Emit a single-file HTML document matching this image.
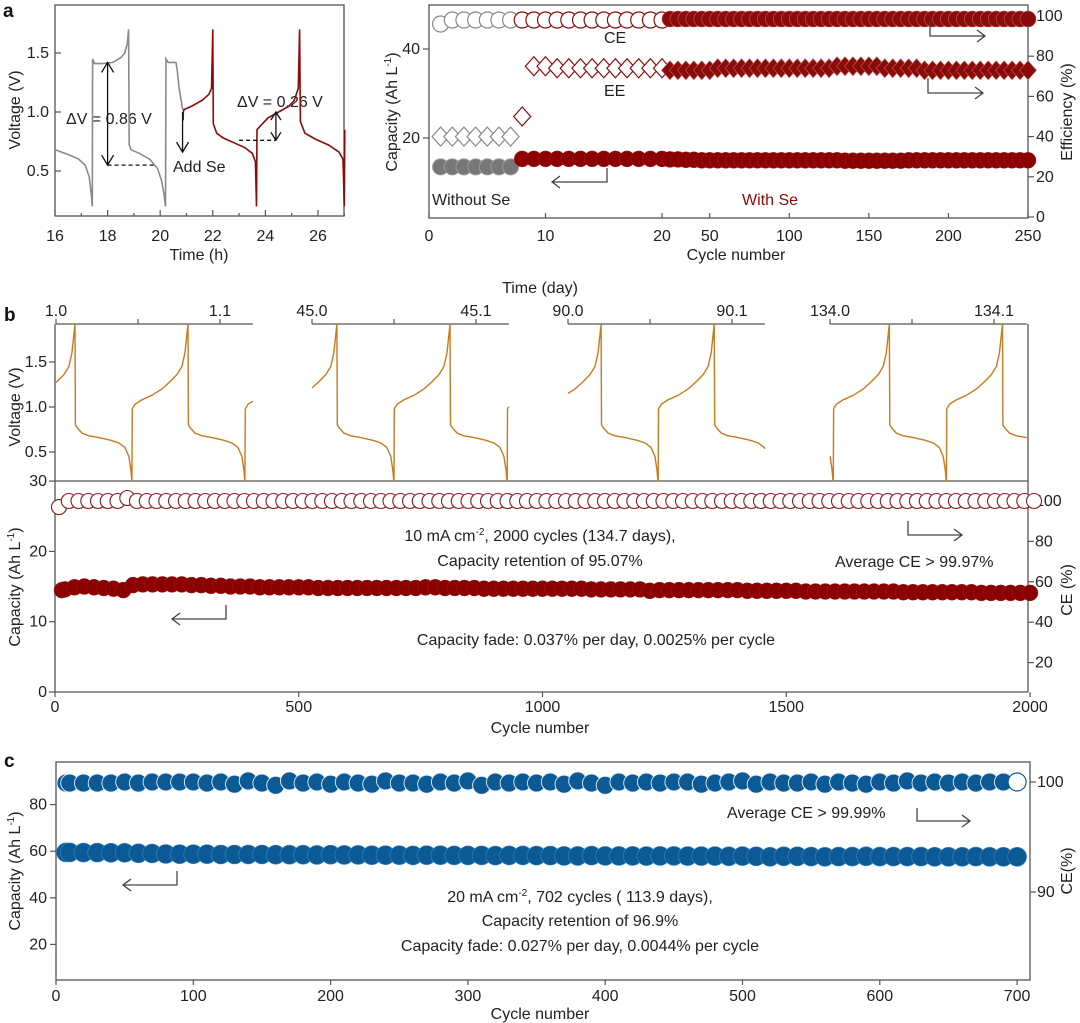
<!DOCTYPE html>
<html><head><meta charset="utf-8">
<style>
html,body{margin:0;padding:0;background:#fff;}
svg{display:block;font-family:"Liberation Sans",Arial,sans-serif;}
.t{font-size:16px;fill:#222;}
.ax{stroke:#555;stroke-width:1.3;fill:none;}
.tk{stroke:#555;stroke-width:1.2;}
</style></head>
<body>
<svg id="fig" width="1080" height="1023" viewBox="0 0 1080 1023" xmlns="http://www.w3.org/2000/svg">
<!-- Panel a left -->
<text x="3" y="17" style="font-size:19px;font-weight:bold" fill="#111">a</text>
<g id="aL">
<rect x="55" y="5" width="289" height="211" class="ax"/>
<text class="t" transform="translate(20,110) rotate(-90)" text-anchor="middle">Voltage (V)</text>
<text class="t" x="199" y="260" text-anchor="middle">Time (h)</text>
<text class="t" x="66" y="124">ΔV = 0.86 V</text>
<text class="t" x="173" y="172">Add Se</text>
<text class="t" x="237" y="107">ΔV = 0.26 V</text>
</g>
<!-- Panel a right -->
<g id="aR">
<rect x="429" y="5" width="599" height="213" class="ax"/>
<text class="t" transform="translate(397,112) rotate(-90)" text-anchor="middle">Capacity (Ah L<tspan dy="-6" font-size="10">-1</tspan><tspan dy="6">)</tspan></text>
<text class="t" transform="translate(1072,112) rotate(-90)" text-anchor="middle">Efficiency (%)</text>
<text class="t" x="736" y="260" text-anchor="middle">Cycle number</text>
<text class="t" x="604" y="43">CE</text>
<text class="t" x="604" y="96">EE</text>
<text class="t" x="432" y="205">Without Se</text>
<text class="t" x="742" y="205" style="fill:#8b0a0a">With Se</text>
</g>
<!-- Panel b -->
<text x="4" y="321" style="font-size:19px;font-weight:bold" fill="#111">b</text>
<g id="bV">
<text class="t" x="540" y="293" text-anchor="middle">Time (day)</text>
<text class="t" transform="translate(20,407) rotate(-90)" text-anchor="middle">Voltage (V)</text>
</g>
<g id="bC">
<text class="t" transform="translate(20,587) rotate(-90)" text-anchor="middle">Capacity (Ah L<tspan dy="-6" font-size="10">-1</tspan><tspan dy="6">)</tspan></text>
<text class="t" transform="translate(1072,590) rotate(-90)" text-anchor="middle">CE (%)</text>
<text class="t" x="540" y="733" text-anchor="middle">Cycle number</text>
<text class="t" x="540" y="541" text-anchor="middle">10 mA cm<tspan dy="-6" font-size="10">-2</tspan><tspan dy="6">, 2000 cycles (134.7 days),</tspan></text>
<text class="t" x="540" y="566" text-anchor="middle">Capacity retention of 95.07%</text>
<text class="t" x="835" y="567">Average CE &gt; 99.97%</text>
<text class="t" x="596" y="645" text-anchor="middle">Capacity fade: 0.037% per day, 0.0025% per cycle</text>
</g>
<!-- Panel c -->
<text x="4" y="767" style="font-size:19px;font-weight:bold" fill="#111">c</text>
<g id="cC">
<rect x="56" y="762" width="974" height="218" class="ax"/>
<text class="t" transform="translate(20,871) rotate(-90)" text-anchor="middle">Capacity (Ah L<tspan dy="-6" font-size="10">-1</tspan><tspan dy="6">)</tspan></text>
<text class="t" transform="translate(1072,871) rotate(-90)" text-anchor="middle">CE(%)</text>
<text class="t" x="540" y="1019" text-anchor="middle">Cycle number</text>
<text class="t" x="727" y="818">Average CE &gt; 99.99%</text>
<text class="t" x="580" y="902" text-anchor="middle">20 mA cm<tspan dy="-6" font-size="10">-2</tspan><tspan dy="6">, 702 cycles ( 113.9 days),</tspan></text>
<text class="t" x="580" y="926" text-anchor="middle">Capacity retention of 96.9%</text>
<text class="t" x="580" y="951" text-anchor="middle">Capacity fade: 0.027% per day, 0.0044% per cycle</text>
</g>
</svg>
<script>
// ---------- DATA ----------
const aGrayTime=[16,16.5,16.9,17.15,17.3,17.38,17.42,17.43,17.5,17.8,18.2,18.5,18.65,18.75,18.8,18.82,18.9,19.2,19.6,19.9,20.05,20.15,20.2,20.22,20.3,20.6,20.65,20.72,20.8,20.85];
const aGrayVolt=[0.68,0.64,0.6,0.55,0.45,0.3,0.2,1.45,1.41,1.41,1.42,1.46,1.5,1.58,1.7,0.72,0.68,0.65,0.6,0.52,0.42,0.3,0.2,1.45,1.42,1.42,1.35,1.2,1.1,1.02];
const aRedTime=[20.87,20.88,20.9,21.2,21.6,21.85,21.95,22.0,22.02,22.15,22.4,22.8,23.2,23.5,23.62,23.66,23.68,23.8,24.1,24.5,24.9,25.1,25.25,25.3,25.33,25.5,25.9,26.4,26.8,26.95,27.0,27.02];
const aRedVolt=[0.93,1.0,1.02,1.05,1.1,1.15,1.2,1.7,0.9,0.82,0.78,0.74,0.7,0.65,0.58,0.2,0.85,0.88,0.95,1.0,1.05,1.1,1.2,1.7,0.92,0.82,0.77,0.72,0.66,0.6,0.2,0.85];
const aTimeTicks=[16,18,20,22,24,26];
const aVoltTicks=[0.5,1.0,1.5];
const aCyclesNoSe=[1,2,3,4,5,6,7];
const aCeNoSe=[96,98,98,98,98,98,98];
const aEeNoSe=[40,40,40,40,40,40,40];
const aCapNoSe=[13.5,13.5,13.5,13.5,13.5,13.5,13.5];
const aCyclesSe=[8,9,10,11,12,13,14,15,16,17,18,19,20,25,30,35,40,45,50,55,60,65,70,75,80,85,90,95,100,105,110,115,120,125,130,135,140,145,150,155,160,165,170,175,180,185,190,195,200,205,210,215,220,225,230,235,240,245,250];
const aCeSe=[98,98,98,98,98,98,98,98,98,98,98,98,98,98.5,98.5,98.5,98.5,98.5,98.5,98.5,98.5,98.5,98.5,98.5,98.5,98.5,98.5,98.5,98.5,98.5,98.5,98.5,98.5,98.5,98.5,98.5,98.5,98.5,98.5,98.5,98.5,98.5,98.5,98.5,98.5,98.5,98.5,98.5,98.5,98.5,98.5,98.5,98.5,98.5,98.5,98.5,98.5,98.5,98.5];
const aEeSe=[50,75,75,74,74,74,74,74,74,74,74,74,74,73,73,73,73,73,73,74,74,74,74,74,74,74,74,74,74,74,74,74,74,74,75,75,75,75,75,75,74,74,74,74,74,73,73,73,73,73,73,73,73,73,73,73,73,73,73];
const aCapSe=[15.3,15.3,15.3,15.3,15.3,15.3,15.3,15.3,15.3,15.3,15.3,15.3,15.3,15.2,15.2,15.1,15.1,15.0,15.0,15.0,15.0,15.0,15.0,15.0,15.0,15.0,15.0,15.0,15.0,15.0,15.0,15.0,15.0,15.0,15.0,14.9,14.9,14.9,14.9,14.9,14.9,14.9,14.9,15.0,15.0,15.0,15.0,15.0,15.0,15.0,15.0,15.0,15.0,15.0,15.0,15.0,15.0,15.0,15.0];
const aCycleTickLabels=[0,10,20,50,100,150,200,250];
const aCapTicks=[20,40];
const aEffTicks=[0,20,40,60,80,100];
const bSegStart=[1.0,45.0,90.0,134.0];
const bSegLabelsL=["1.0","45.0","90.0","134.0"];
const bSegLabelsR=["1.1","45.1","90.1","134.1"];
const bChargeStarts=[[0.9774,1.0463,1.1152],[44.981,45.050,45.119],[89.986,90.055,90.124],[133.933,134.002,134.071]];
const bCyclePeriod=0.0689;
const bTmplPhase=[0,0.003,0.027,0.088,0.177,0.265,0.336,0.398,0.442,0.469,0.496,0.5,0.522,0.558,0.619,0.708,0.814,0.885,0.938,0.973,0.991,0.999];
const bTmplVolt=[0.18,0.98,1.03,1.08,1.13,1.2,1.28,1.36,1.45,1.6,1.92,0.8,0.76,0.71,0.68,0.66,0.63,0.6,0.55,0.45,0.3,0.18];
const bVoltTicks=[0.5,1.0,1.5];
const bCapacity=[14.5,14.6,14.9,15.0,14.9,14.8,14.7,14.5,15.2,15.3,15.3,15.3,15.3,15.3,15.2,15.2,15.1,15.1,15.0,15.0,15.0,14.9,14.9,14.9,14.9,14.9,14.9,14.8,14.8,14.8,14.8,14.8,14.8,14.8,14.8,14.8,14.8,14.8,14.9,14.9,14.8,14.8,14.8,14.8,14.7,14.7,14.7,14.7,14.7,14.7,14.7,14.7,14.7,14.7,14.7,14.6,14.6,14.6,14.6,14.6,14.6,14.4,14.5,14.5,14.5,14.5,14.5,14.5,14.5,14.5,14.5,14.4,14.4,14.4,14.4,14.4,14.4,14.3,14.3,14.3,14.3,14.3,14.3,14.3,14.3,14.3,14.3,14.2,14.2,14.2,14.2,14.2,14.2,14.2,14.2,14.1,14.1,14.1,14.1,14.1,14.1];
const bCE=[97,100,100,100,100,100,100,101.5,100,100,100,100,100,100,100,100,100,100,100,100,100,100,100,100,100,100,100,100,100,100,100,100,100,100,100,100,100,100,100,100,100,100,100,100,100,100,100,100,100,100,100,100,100,100,100,100,100,100,100,100,100,100,100,100,100,100,100,100,100,100,100,100,100,100,100,100,100,100,100,100,100,100,100,100,100,100,100,100,100,100,100,100,100,100,100,100,100,100,100,100,100];
const bCycleStep=20;
const bCycleTicks=[0,500,1000,1500,2000];
const bCapTicks=[0,10,20,30];
const bCeTicks=[20,40,60,80,100];
const cCapacity=[59.5,59.5,59.4,59.4,59.3,59.3,59.1,59.0,58.8,58.7,58.7,58.7,58.6,58.6,58.6,58.6,58.5,58.5,58.5,58.4,58.5,58.4,58.4,58.3,58.3,58.3,58.2,58.3,58.3,58.2,58.2,58.2,58.1,58.2,58.2,58.1,58.1,58.0,58.0,58.1,58.0,58.0,58.0,57.9,58.0,58.0,57.9,57.9,57.9,57.8,57.9,57.8,57.6,57.8,57.8,57.7,57.6,57.7,57.7,57.8,57.7,57.7,57.7,57.7,57.6,57.6,57.6,57.7,57.6,57.6,57.6];
const cCE=[99.9,99.9,99.9,99.9,99.9,100,99.9,100,100,100,100,99.9,100,99.8,100.1,99.9,99.7,100.1,99.9,100,99.8,100,99.9,99.8,100.1,99.9,99.9,99.8,100,99.9,100.1,99.7,100,99.9,100,99.9,100,99.8,100.1,99.9,99.7,100,99.9,100,99.9,100,100,99.8,99.9,100,100.1,99.8,100,99.9,99.9,100,99.8,100,99.9,99.8,100,99.9,100.1,99.9,100,99.9,100,99.9,100,100,100];
const cCycleStep=10;
const cCycleTicks=[0,100,200,300,400,500,600,700];
const cCapTicks=[20,40,60,80];
const cCeTicks=[90,100];

// ---------- HELPERS ----------
const NS='http://www.w3.org/2000/svg';
function mk(tag,attrs,parent){const e=document.createElementNS(NS,tag);for(const k in attrs)e.setAttribute(k,attrs[k]);parent.appendChild(e);return e;}
function txt(parent,x,y,s,anchor){const e=mk('text',{x:x,y:y,'class':'t','text-anchor':anchor||'middle'},parent);e.textContent=s;return e;}

const axT=h=>55+(h-16)*26.3;
const ayV=v=>112-(v-1.0)*118;
const gAL=document.getElementById('aL');
aTimeTicks.forEach(h=>{
 const l=mk('line',{x1:axT(h),x2:axT(h),y1:216,y2:210,'class':'tk'},gAL);
 
 
 const m=mk('line',{x1:axT(h+1),x2:axT(h+1),y1:216,y2:213,'class':'tk'},gAL);
 
 
 const t=txt(gAL,axT(h),241,String(h));
 
 
});
aVoltTicks.forEach(v=>{
 const l=mk('line',{x1:55,x2:61,y1:ayV(v),y2:ayV(v),'class':'tk'},gAL);
 
 
 const t=txt(gAL,49,ayV(v)+5,v.toFixed(1),'end');
 
 
});
function poly(times,volts,fx,fy){return times.map((t,i)=>fx(t).toFixed(1)+','+fy(volts[i]).toFixed(1)).join(' ');}
const gl=mk('polyline',{points:poly(aGrayTime,aGrayVolt,axT,ayV),fill:'none',stroke:'#8a8a8a','stroke-width':1.6},gAL);


const rl=mk('polyline',{points:poly(aRedTime,aRedVolt,axT,ayV),fill:'none',stroke:'#8b0a0a','stroke-width':1.6},gAL);


function ann(d,name,dash){const p=mk('path',{d:d,fill:'none',stroke:'#111','stroke-width':1.3},gAL);if(dash)p.setAttribute('stroke-dasharray','4,3');}
const x18=axT(18),x24=axT(24.4),x21=axT(20.85);
ann(`M${x18},${ayV(1.42)} L${x18},${ayV(0.55)} M${x18-6},${ayV(1.42)+10} L${x18},${ayV(1.42)} L${x18+6},${ayV(1.42)+10} M${x18-6},${ayV(0.55)-10} L${x18},${ayV(0.55)} L${x18+6},${ayV(0.55)-10}`,'delta-v-086-arrow');
ann(`M${x18},${ayV(0.55)} L${axT(19.8)},${ayV(0.55)}`,'delta-v-086-dash',true);
ann(`M${x21},${ayV(1.0)} L${x21},${ayV(0.66)} M${x21-6},${ayV(0.66)-10} L${x21},${ayV(0.66)} L${x21+6},${ayV(0.66)-10}`,'add-se-arrow');
ann(`M${x24},${ayV(1.0)} L${x24},${ayV(0.76)} M${x24-5},${ayV(1.0)+8} L${x24},${ayV(1.0)} L${x24+5},${ayV(1.0)+8} M${x24-5},${ayV(0.76)-8} L${x24},${ayV(0.76)} L${x24+5},${ayV(0.76)-8}`,'delta-v-026-arrow');
ann(`M${axT(23.0)},${ayV(0.76)} L${x24},${ayV(0.76)}`,'delta-v-026-dash',true);

const gAR=document.getElementById('aR');
const axC=c=>c<=20?429+c*11.65:662+(c-20)*(1028-662)/230;
const ayCap=v=>138-(v-20)*4.45;
const ayEff=e=>217-e*2.01;
aCycleTickLabels.forEach(c=>{
 const l=mk('line',{x1:axC(c),x2:axC(c),y1:218,y2:213,'class':'tk'},gAR);
 
 
 const t=txt(gAR,axC(c),241,String(c));
 
 
});
aCapTicks.forEach(v=>{
 const l=mk('line',{x1:423,x2:429,y1:ayCap(v),y2:ayCap(v),'class':'tk'},gAR);
 
 
 const t=txt(gAR,420,ayCap(v)+5,String(v),'end');
 
 
});
aEffTicks.forEach(v=>{
 const l=mk('line',{x1:1028,x2:1034,y1:ayEff(v),y2:ayEff(v),'class':'tk'},gAR);
 
 
 const t=txt(gAR,1036,ayEff(v)+5,String(v),'start');
 
 
});
function circ(g,x,y,r,fill,stroke,sw){return mk('circle',{cx:x.toFixed(1),cy:y.toFixed(1),r:r,fill:fill,stroke:stroke,'stroke-width':sw},g);}
function diam(g,x,y,w,h,fill,stroke,sw){return mk('path',{d:`M${x-w},${y} L${x},${y-h} L${x+w},${y} L${x},${y+h} Z`,fill:fill,stroke:stroke,'stroke-width':sw},g);}
aCyclesNoSe.forEach((c,i)=>{
 const a=circ(gAR,axC(c),ayEff(aCeNoSe[i]),8,'#fff','#888',1.2);
 
 
 const b=diam(gAR,axC(c),ayEff(aEeNoSe[i]),8.5,9.5,'#fff','#888',1.2);
 
 
 const d=circ(gAR,axC(c),ayCap(aCapNoSe[i]),8,'#777','#999',1);
 
 
});
aCyclesSe.forEach((c,i)=>{
 const dense=c>20;
 const a=circ(gAR,axC(c),ayEff(aCeSe[i]),8,dense?'#8b0a0a':'#fff',dense?'#c06060':'#8b0a0a',dense?0.6:1.2);
 
 
 const b=diam(gAR,axC(c),ayEff(aEeSe[i]),8.5,9.5,dense?'#8b0a0a':'#fff',dense?'#c06060':'#8b0a0a',dense?0.6:1.2);
 
 
 const d=circ(gAR,axC(c),ayCap(aCapSe[i]),8,'#8b0000','#a02020',0.5);
 
 
});
function arr(g,d,name){const p=mk('path',{d:d,fill:'none',stroke:'#444','stroke-width':1.3},g);}
arr(gAR,'M930,21 L930,36 L985,36 M977,30 L985,36 L977,42','ce-right-axis-arrow');
arr(gAR,'M928,78 L928,93 L983,93 M975,87 L983,93 L975,99','ee-right-axis-arrow');
arr(gAR,'M607,168 L607,182 L552,182 M560,176 L552,182 L560,188','capacity-left-axis-arrow');

const gBV=document.getElementById('bV');
const segX0=[56,312,568,830];
const dayPx=1640, segLen=0.12;
const ayBV=v=>407-(v-1)*90;
[[55,324,55,481],[1028,324,1028,481],[55,481,1028,481]].forEach(s=>{
 const l=mk('line',{x1:s[0],y1:s[1],x2:s[2],y2:s[3],'class':'ax'},gBV);
 
 
});
bVoltTicks.forEach(v=>{
 const l=mk('line',{x1:49,x2:55,y1:ayBV(v),y2:ayBV(v),'class':'tk'},gBV);
 
 
 const t=txt(gBV,47,ayBV(v)+5,v.toFixed(1),'end');
 
 
});
bSegStart.forEach((t0,s)=>{
 const x0=segX0[s];
 const ax=mk('line',{x1:x0,x2:x0+segLen*dayPx,y1:324,y2:324,'class':'ax'},gBV);
 
 
 [0,0.05,0.1].forEach(d=>{
  const tk=mk('line',{x1:x0+d*dayPx,x2:x0+d*dayPx,y1:324,y2:319,'class':'tk'},gBV);
  
  
 });
 const l1=txt(gBV,x0,316,bSegLabelsL[s]);
 
 
 const l2=txt(gBV,x0+0.1*dayPx,316,bSegLabelsR[s]);
 
 
 let pts=[];
 bChargeStarts[s].forEach(cs=>{bTmplPhase.forEach((p,i)=>pts.push([cs+p*bCyclePeriod,bTmplVolt[i]]));});
 pts.sort((a,b)=>a[0]-b[0]);
 const t1=t0+segLen;const out=[];
 for(let i=0;i<pts.length;i++){
  const [t,v]=pts[i];
  if(i>0){const [tp,vp]=pts[i-1];
   if(tp<t0&&t>=t0&&t>tp){out.push([t0,vp+(v-vp)*(t0-tp)/(t-tp)]);}
   if(tp<=t1&&t>t1&&t>tp){out.push([t1,vp+(v-vp)*(t1-tp)/(t-tp)]);}
  }
  if(t>=t0&&t<=t1)out.push([t,v]);
 }
 out.sort((a,b)=>a[0]-b[0]);
 const pl=mk('polyline',{points:out.map(p=>(x0+(p[0]-t0)*dayPx).toFixed(1)+','+ayBV(p[1]).toFixed(1)).join(' '),fill:'none',stroke:'#c87a1e','stroke-width':1.4},gBV);
 
 
});

const gBC=document.getElementById('bC');
const axB=c=>55+c*0.4875;
const ayBC=v=>692-v*7.03;
const ayBE=e=>501-(e-100)*2.02;
[[55,481,55,692],[1028,481,1028,692],[55,692,1028,692]].forEach(s=>{
 const l=mk('line',{x1:s[0],y1:s[1],x2:s[2],y2:s[3],'class':'ax'},gBC);
 
 
});
bCycleTicks.forEach(c=>{
 const l=mk('line',{x1:axB(c),x2:axB(c),y1:692,y2:697,'class':'tk'},gBC);
 
 
 const t=txt(gBC,axB(c),712,String(c));
 
 
});
bCapTicks.forEach(v=>{
 const l=mk('line',{x1:49,x2:55,y1:ayBC(v),y2:ayBC(v),'class':'tk'},gBC);
 
 
 const t=txt(gBC,47,ayBC(v)+5,String(v),'end');
 
 
});
bCeTicks.forEach(v=>{
 const l=mk('line',{x1:1028,x2:1034,y1:ayBE(v),y2:ayBE(v),'class':'tk'},gBC);
 
 
 const t=txt(gBC,1035,ayBE(v)+5,String(v),'start');
 
 
});
bCE.forEach((v,i)=>{
 const c=circ(gBC,axB(i*bCycleStep)+4,ayBE(v),7.5,'#fff','#8b1a1a',1.1);
 
 
});
bCapacity.forEach((v,i)=>{
 const c=circ(gBC,Math.max(axB(i*bCycleStep),62),ayBC(v),8,'#8b0000','#a02020',0.5);
 
 
});
arr(gBC,'M226,605 L226,619 L172,619 M180,613 L172,619 L180,625','b-capacity-arrow');
arr(gBC,'M908,521 L908,535 L962,535 M954,529 L962,535 L954,541','b-ce-arrow');

const gCC=document.getElementById('cC');
const axCc=c=>56+c*1.373;
const ayCc=v=>991-v*2.33;
const ayCe=e=>782-(e-100)*11;
cCycleTicks.forEach(c=>{
 const l=mk('line',{x1:axCc(c),x2:axCc(c),y1:980,y2:985,'class':'tk'},gCC);
 
 
 const t=txt(gCC,axCc(c),1001,String(c));
 
 
});
cCapTicks.forEach(v=>{
 const l=mk('line',{x1:50,x2:56,y1:ayCc(v),y2:ayCc(v),'class':'tk'},gCC);
 
 
 const t=txt(gCC,47,ayCc(v)+5,String(v),'end');
 
 
});
cCeTicks.forEach(v=>{
 const l=mk('line',{x1:1030,x2:1036,y1:ayCe(v),y2:ayCe(v),'class':'tk'},gCC);
 
 
 const t=txt(gCC,1037,ayCe(v)+5,String(v),'start');
 
 
});
cCE.forEach((v,i)=>{
 const last=i===cCE.length-1;
 const c=circ(gCC,Math.max(axCc(i*cCycleStep),66),ayCe(v),9,last?'#fff':'#0b5a96',last?'#0b5a96':'#e8f0f8',last?1.2:0.9);
 
 
});
cCapacity.forEach((v,i)=>{
 const c=circ(gCC,Math.max(axCc(i*cCycleStep),66),ayCc(v),9.5,'#0b5a96','#3f86bf',0.6);
 
 
});
arr(gCC,'M177,871 L177,885 L123,885 M131,879 L123,885 L131,891','c-capacity-arrow');
arr(gCC,'M917,808 L917,821 L970,821 M962,815 L970,821 L962,827','c-ce-arrow');
</script>
</body></html>
